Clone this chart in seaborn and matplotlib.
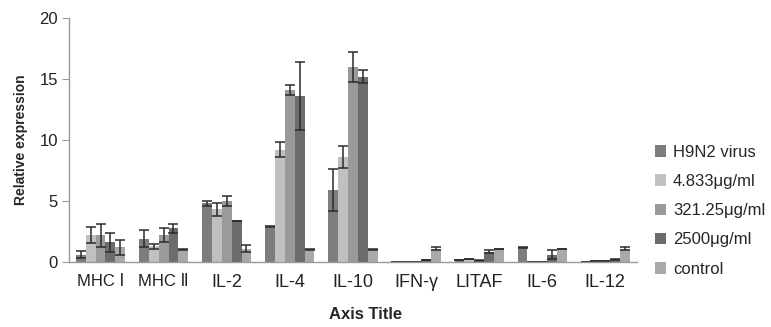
import matplotlib
matplotlib.use("Agg")
import matplotlib.pyplot as plt
import seaborn as sns
import pandas as pd
import numpy as np

# genes on the x axis
genes = ["MHC Ⅰ", "MHC Ⅱ", "IL-2", "IL-4", "IL-10", "IFN-γ", "LITAF", "IL-6", "IL-12"]
groups = ["H9N2 virus", "4.833μg/ml", "321.25μg/ml", "2500μg/ml", "control"]

# mean relative expression per group
h9n2 = [0.6, 1.9, 4.8, 2.9, 5.9, 0.02, 0.15, 1.2, 0.02]
c4833 = [2.2, 1.3, 4.3, 9.2, 8.6, 0.02, 0.25, 0.02, 0.1]
c32125 = [2.2, 2.2, 5.0, 14.1, 16.0, 0.02, 0.12, 0.03, 0.05]
c2500 = [1.6, 2.75, 3.35, 13.6, 15.2, 0.15, 0.85, 0.6, 0.2]
control = [1.2, 1.0, 1.1, 1.0, 1.0, 1.1, 1.05, 1.05, 1.1]

# error bars (+/-)
h9n2_err = [0.3, 0.7, 0.2, 0.05, 1.7, 0, 0.02, 0.03, 0]
c4833_err = [0.65, 0.2, 0.5, 0.6, 0.9, 0, 0.03, 0, 0]
c32125_err = [0.95, 0.55, 0.4, 0.4, 1.25, 0, 0.02, 0, 0]
c2500_err = [0.75, 0.4, 0.02, 2.8, 0.5, 0.03, 0.15, 0.35, 0.03]
control_err = [0.6, 0.05, 0.25, 0.05, 0.05, 0.1, 0.03, 0.03, 0.15]

colors = ["#7d7d7d", "#c0c0c0", "#9a9a9a", "#6c6c6c", "#a9a9a9"]

vals = [h9n2, c4833, c32125, c2500, control]
errs = [h9n2_err, c4833_err, c32125_err, c2500_err, control_err]
rows = []
for g, v, e in zip(groups, vals, errs):
    for gene, vv, ee in zip(genes, v, e):
        rows.append({"gene": gene, "group": g, "value": vv, "err": ee})
df = pd.DataFrame(rows)

sns.set_style("white")
plt.rcParams["font.family"] = ["Liberation Sans", "DejaVu Sans"]

fig = plt.figure(figsize=(7.71, 3.27), dpi=100)
ax = fig.add_axes([0.0895, 0.199, 0.7365, 0.746])

sns.barplot(data=df, x="gene", y="value", hue="group", order=genes,
            hue_order=groups, palette=colors, width=0.78, gap=0,
            errorbar=None, ax=ax, saturation=1, linewidth=0)

# error bars on top of each bar
for i, g in enumerate(groups):
    cont = ax.containers[i]
    sub = df[df.group == g].set_index("gene").loc[genes]
    xs = [p.get_x() + p.get_width() / 2 for p in cont.patches]
    ax.errorbar(xs, sub["value"].values, yerr=sub["err"].values, fmt="none",
                ecolor="#2b2b2b", elinewidth=1.1, capsize=3.5, capthick=1.1)

ax.set_ylim(0, 20)
ax.set_yticks([0, 5, 10, 15, 20])
ax.set_xlim(-0.5, len(genes) - 0.5)
for s in ["top", "right"]:
    ax.spines[s].set_visible(False)
for s in ["left", "bottom"]:
    ax.spines[s].set_color("#999999")
    ax.spines[s].set_linewidth(1)
ax.tick_params(axis="y", left=True, length=5, color="#999999", labelsize=12,
               labelcolor="#222222", pad=3)
ax.tick_params(axis="x", bottom=False, labelsize=13, labelcolor="#222222", pad=5)
for lab in ax.get_xticklabels()[:2]:
    lab.set_fontsize(12)
ax.set_ylabel("Relative expression", fontsize=10, fontweight="bold", labelpad=8)
ax.set_xlabel("Axis Title", fontsize=12, fontweight="bold")
ax.xaxis.set_label_coords(0.523, -0.185)

leg = ax.legend(loc="center left", bbox_to_anchor=(1.005, 0.21), frameon=False,
                fontsize=12, handlelength=0.7, handleheight=0.7,
                handletextpad=0.4, labelspacing=0.85)

fig.savefig("out.png", dpi=100)
